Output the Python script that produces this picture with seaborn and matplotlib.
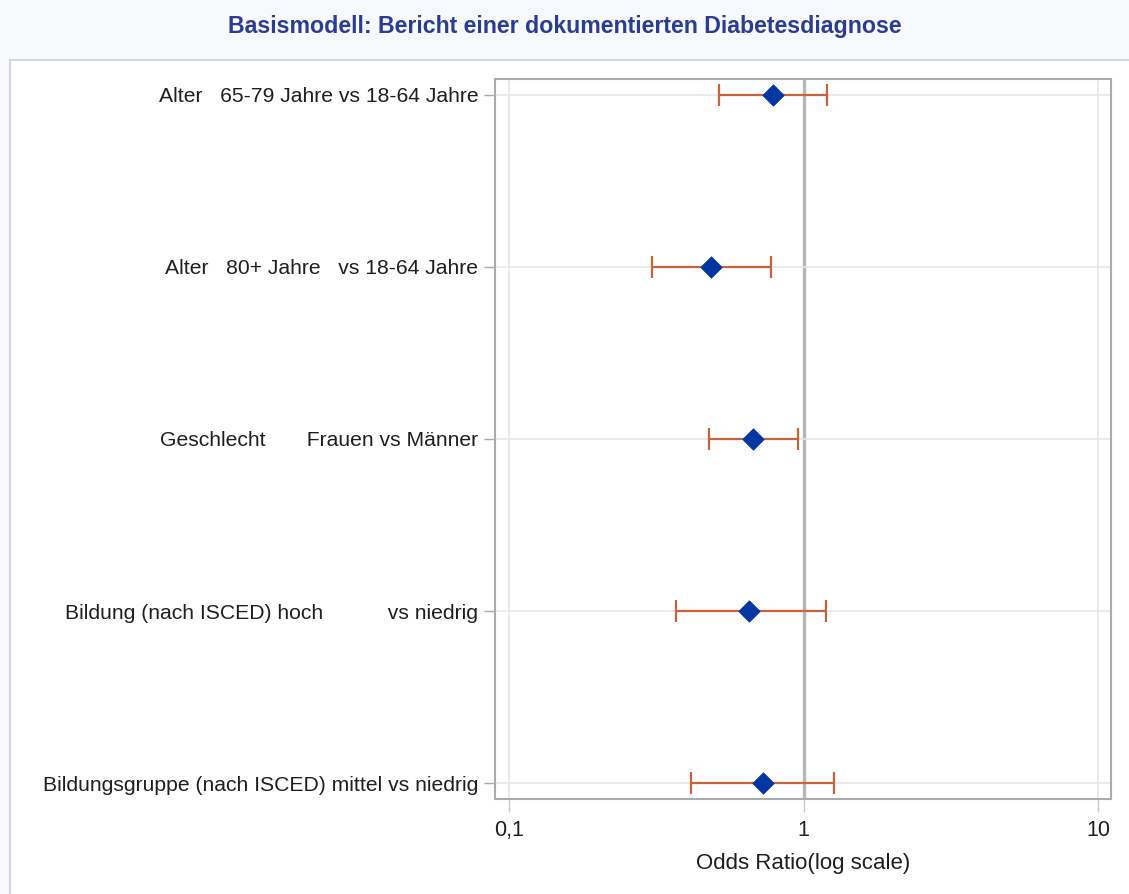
import matplotlib
matplotlib.use("Agg")
import matplotlib.pyplot as plt
import seaborn as sns
import numpy as np
import pandas as pd
from matplotlib.patches import Rectangle
from matplotlib.ticker import FixedLocator, NullLocator

labels = [
    "Alter   65-79 Jahre vs 18-64 Jahre",
    "Alter   80+ Jahre   vs 18-64 Jahre",
    "Geschlecht       Frauen vs Männer",
    "Bildung (nach ISCED) hoch           vs niedrig",
    "Bildungsgruppe (nach ISCED) mittel vs niedrig",
]
odds_ratio = [0.785, 0.486, 0.676, 0.655, 0.726]
ci_lower = [0.518, 0.306, 0.479, 0.370, 0.416]
ci_upper = [1.197, 0.778, 0.961, 1.188, 1.274]
xtick_values = [0.1, 1, 10]
xtick_labels = ["0,1", "1", "10"]
title = "Basismodell: Bericht einer dokumentierten Diabetesdiagnose"
xlabel = "Odds Ratio(log scale)"

df = pd.DataFrame({"label": labels, "or": odds_ratio, "lo": ci_lower, "hi": ci_upper})
df["pos"] = np.arange(len(df))

sns.set_theme(style="white")
plt.rcParams["font.family"] = ["Liberation Sans", "DejaVu Sans"]

fig = plt.figure(figsize=(11.29, 8.94), dpi=100, facecolor="#f7f9fd")
# white panel
panel = Rectangle((10 / 1129, -0.01), 1.2, (834 / 894) + 0.01, transform=fig.transFigure,
                  facecolor="white", edgecolor="#d4d6da", linewidth=1.5, zorder=-10)
fig.patches.append(panel)

ax = fig.add_axes([495 / 1129, 1 - 799 / 894, (1111 - 495) / 1129, (799 - 79) / 894])
ax.set_facecolor("white")

ax.set_xscale("log")
ax.set_xlim(0.0896, 11.07)
ax.set_ylim(4.09, -0.09)

# grid
for xv in xtick_values:
    if xv == 1:
        ax.axvline(xv, color="#b4b6b9", linewidth=2.4, zorder=1)
    else:
        ax.axvline(xv, color="#e6e7e9", linewidth=1.2, zorder=1)
for p in df["pos"]:
    ax.axhline(p, color="#e6e7e9", linewidth=1.2, zorder=1)

# CIs
ax.errorbar(df["or"], df["pos"], xerr=[df["or"] - df["lo"], df["hi"] - df["or"]],
            fmt="none", ecolor="#c8643c", elinewidth=1.6, capsize=8, capthick=1.6, zorder=2)
sns.scatterplot(data=df, x="or", y="pos", marker="D", s=120, color="#0336a0",
                edgecolor="#0336a0", linewidth=0.5, ax=ax, zorder=3, legend=False)

ax.set_yticks(df["pos"])
ax.set_yticklabels(df["label"], fontsize=15.2, color="#1f1f1f")
ax.xaxis.set_major_locator(FixedLocator(xtick_values))
ax.xaxis.set_minor_locator(NullLocator())
ax.set_xticklabels(xtick_labels, fontsize=15.5, color="#1f1f1f")
ax.tick_params(axis="y", which="major", length=8, width=1, color="#a9abae", left=True, pad=4)
ax.tick_params(axis="x", which="major", length=9, width=1, color="#c9cbce", bottom=True, pad=6)
ax.set_xlabel(xlabel, fontsize=16, color="#1f1f1f", labelpad=9)
ax.set_ylabel("")

for s in ax.spines.values():
    s.set_color("#a9acaf")
    s.set_linewidth(1.5)

fig.text(0.5, 1 - 27 / 894, title, ha="center", va="center", fontsize=16.7,
         fontweight="bold", color="#2b3d91")

fig.savefig("out.png", dpi=100, facecolor=fig.get_facecolor())
